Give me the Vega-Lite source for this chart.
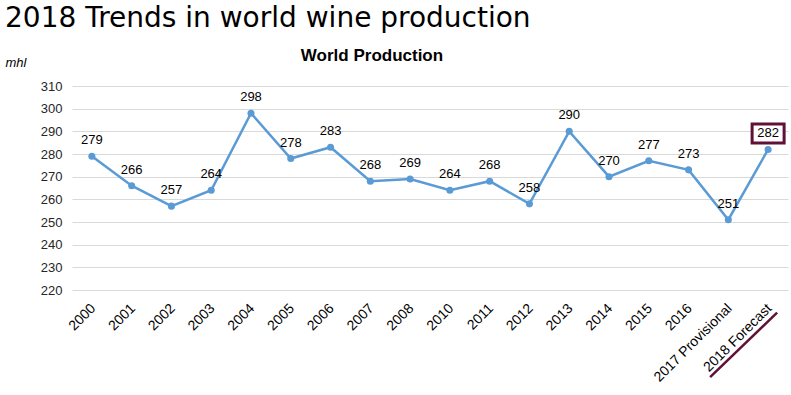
{
  "$schema": "https://vega.github.io/schema/vega-lite/v6.json",
  "background": "white",
  "padding": {"left": 5, "top": 5, "right": 0, "bottom": 0},
  "title": {"text": "2018 Trends in world wine production", "anchor": "start", "font": "DejaVu Sans", "fontSize": 28, "fontWeight": "normal", "color": "black", "offset": 14},
  "config": {"view": {"stroke": null}, "concat": {"spacing": 0}},
  "vconcat": [
    {
      "width": 716,
      "height": 204,
      "title": {"text": "World Production", "frame": "group", "font": "Liberation Sans", "fontSize": 17, "fontWeight": "bold", "color": "black", "anchor": "middle", "dx": -58, "dy": 2, "offset": -7},
      "data": {"values": [
        {"year": "2000", "value": 279},
        {"year": "2001", "value": 266},
        {"year": "2002", "value": 257},
        {"year": "2003", "value": 264},
        {"year": "2004", "value": 298},
        {"year": "2005", "value": 278},
        {"year": "2006", "value": 283},
        {"year": "2007", "value": 268},
        {"year": "2008", "value": 269},
        {"year": "2010", "value": 264},
        {"year": "2011", "value": 268},
        {"year": "2012", "value": 258},
        {"year": "2013", "value": 290},
        {"year": "2014", "value": 270},
        {"year": "2015", "value": 277},
        {"year": "2016", "value": 273},
        {"year": "2017 Provisional", "value": 251},
        {"year": "2018 Forecast", "value": 282}
      ]},
      "encoding": {
        "x": {"field": "year", "type": "nominal", "sort": null,
          "scale": {"type": "point", "padding": 0.5},
          "axis": {"title": null, "labelAngle": -45, "labelFontSize": 14, "labelFont": "Liberation Sans", "labelColor": "black", "ticks": false, "domain": false, "grid": false, "labelPadding": 11, "labelOffset": -4}},
        "y": {"field": "value", "type": "quantitative",
          "scale": {"domain": [220, 310], "nice": false, "zero": false},
          "axis": {"title": "mhl", "titleAngle": 0, "titleAlign": "left", "titleBaseline": "middle", "titleX": -67, "titleY": -24, "titleFont": "Liberation Sans", "titleFontStyle": "italic", "titleFontWeight": "normal", "titleFontSize": 13, "titleColor": "black",
            "values": [220, 230, 240, 250, 260, 270, 280, 290, 300, 310],
            "labelFontSize": 13, "labelFont": "Liberation Sans", "labelColor": "#262626", "labelPadding": 10, "ticks": false, "domain": false, "gridColor": "#d9d9d9", "gridWidth": 1}}
      },
      "layer": [
        {"mark": {"type": "line", "color": "#5b9bd5", "strokeWidth": 2.5}},
        {"mark": {"type": "point", "filled": true, "size": 50, "color": "#5b9bd5", "opacity": 1}},
        {"transform": [{"filter": "datum.year === '2018 Forecast'"}],
          "mark": {"type": "point", "shape": "M-2,-1.1875H2V1.1875H-2Z", "size": 256, "filled": false, "fill": "white", "fillOpacity": 1, "stroke": "#611036", "strokeWidth": 3, "opacity": 1, "yOffset": -16}},
        {"mark": {"type": "text", "baseline": "middle", "dy": -16, "fontSize": 13, "font": "Liberation Sans", "color": "black"},
          "encoding": {"text": {"field": "value", "type": "quantitative"}}},
        {"transform": [{"filter": "datum.year === '2018 Forecast'"}],
          "mark": {"type": "rule", "color": "#611036", "strokeWidth": 2.5, "xOffset": -58, "x2Offset": 9},
          "encoding": {
            "x": {"datum": "2018 Forecast"},
            "x2": {"datum": "2018 Forecast"},
            "y": {"datum": 181.6, "type": "quantitative"},
            "y2": {"datum": 210}
          }}
      ]
    }
  ]
}
